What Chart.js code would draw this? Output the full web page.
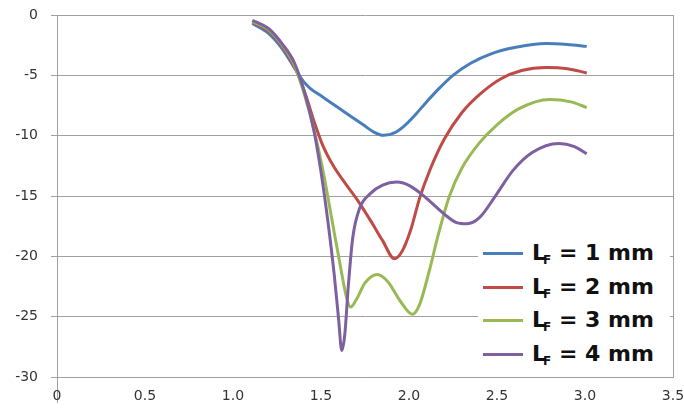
<!doctype html>
<html lang="en">
<head>
    <meta charset="UTF-8">
    <title>Reflection vs frequency</title>
    <script src="https://cdn.jsdelivr.net/npm/chart.js"></script>
    <style>
        body { margin: 0; background: #fff; }
        .wrap { position: relative; width: 684px; height: 410px; }
        .legend {
            position: absolute; left: 478px; top: 234px; width: 192px; height: 138px;
            background: #fff; font-family: 'DejaVu Sans', sans-serif; font-weight: bold;
            font-size: 22px; color: #111;
        }
        .item { position: absolute; left: 5px; height: 24px; line-height: 24px; white-space: nowrap; }
        .item i { display: inline-block; width: 40px; height: 3px; vertical-align: middle; margin-right: 9px; position: relative; top: -1px; }
        .item sub { font-size: 12px; vertical-align: baseline; position: relative; top: 4px; margin-left: -3px; }
    </style>
</head>
<body>
<div class="wrap">
    <canvas id="chart" width="684" height="410"></canvas>
    <div class="legend" id="legend"></div>
</div>
<script>
  // values
  const lf1X = [1.11, 1.20, 1.28, 1.35, 1.40, 1.44, 1.50, 1.58, 1.66, 1.74, 1.80, 1.855, 1.92, 1.98, 2.04, 2.10, 2.17, 2.25, 2.35, 2.47, 2.60, 2.78, 2.90, 3.01];
  const lf1Y = [-0.7, -1.5, -2.8, -4.4, -5.5, -6.1, -6.7, -7.5, -8.3, -9.1, -9.7, -9.97, -9.75, -9.1, -8.2, -7.2, -6.1, -5.0, -4.0, -3.2, -2.7, -2.37, -2.45, -2.6];

  const lf2X = [1.11, 1.20, 1.28, 1.35, 1.41, 1.46, 1.51, 1.57, 1.64, 1.71, 1.78, 1.85, 1.917, 1.96, 2.01, 2.06, 2.12, 2.20, 2.30, 2.40, 2.52, 2.64, 2.78, 2.90, 3.01];
  const lf2Y = [-0.6, -1.3, -2.6, -4.3, -6.5, -8.8, -10.8, -12.5, -14.0, -15.4, -17.0, -18.7, -20.2, -19.6, -17.8, -15.2, -12.8, -10.3, -8.1, -6.6, -5.3, -4.6, -4.35, -4.45, -4.8];

  const lf3X = [1.11, 1.20, 1.28, 1.35, 1.41, 1.46, 1.51, 1.56, 1.61, 1.645, 1.668, 1.70, 1.75, 1.82, 1.88, 1.95, 2.02, 2.06, 2.11, 2.17, 2.23, 2.30, 2.40, 2.50, 2.62, 2.80, 2.92, 3.01];
  const lf3Y = [-0.55, -1.2, -2.5, -4.2, -6.8, -9.5, -12.8, -16.8, -20.8, -23.4, -24.2, -23.6, -22.2, -21.5, -22.1, -23.7, -24.8, -24.0, -21.5, -18.0, -15.0, -12.7, -10.6, -9.1, -7.8, -7.0, -7.2, -7.67];

  const lf4X = [1.11, 1.20, 1.28, 1.35, 1.41, 1.46, 1.50, 1.54, 1.575, 1.60, 1.618, 1.635, 1.655, 1.68, 1.72, 1.78, 1.85, 1.93, 2.01, 2.10, 2.20, 2.27, 2.33, 2.40, 2.50, 2.59, 2.70, 2.85, 2.94, 3.01];
  const lf4Y = [-0.44, -1.1, -2.4, -4.0, -6.6, -9.6, -13.0, -17.2, -21.5, -25.2, -27.8, -26.5, -22.5, -18.5, -16.0, -14.8, -14.1, -13.85, -14.2, -15.2, -16.5, -17.2, -17.3, -16.8, -14.8, -12.9, -11.4, -10.65, -10.9, -11.5];

  const seriesNames = ['1 mm', '2 mm', '3 mm', '4 mm'];
  const seriesColors = ['#4A7EBB', '#BE4B48', '#98B954', '#7D60A0'];

  function points(xs, ys) {
    return xs.map((x, i) => ({x: x, y: ys[i]}));
  }

  const allData = [points(lf1X, lf1Y), points(lf2X, lf2Y), points(lf3X, lf3Y), points(lf4X, lf4Y)];

  const tickFont = {family: 'DejaVu Sans', size: 14};
  const gridGray = '#a0a0a0';

  new Chart(document.getElementById('chart'), {
    type: 'line',
    data: {
      datasets: allData.map((d, i) => ({
        label: 'LF = ' + seriesNames[i],
        data: d,
        borderColor: seriesColors[i],
        borderWidth: 3,
        pointRadius: 0,
        cubicInterpolationMode: 'monotone',
        order: 4 - i, // last series drawn on top, like Excel
      }))
    },
    options: {
      responsive: false,
      animation: false,
      layout: {padding: {top: 15, left: 0, right: 0, bottom: 0}},
      plugins: {
        legend: {display: false},
        tooltip: {enabled: false},
      },
      scales: {
        x: {
          type: 'linear',
          min: 0,
          max: 3.5,
          ticks: {stepSize: 0.5, padding: -15, color: '#333', font: tickFont},
          grid: {
            drawOnChartArea: false,
            tickLength: 26,
            color: (ctx) => (ctx.tick && ctx.tick.value === 0) ? gridGray : 'rgba(0,0,0,0)',
          },
          border: {color: gridGray},
          afterFit: (scale) => { scale.height = 33; },
        },
        y: {
          min: -30,
          max: 0,
          ticks: {stepSize: 5, padding: 13, color: '#333', font: tickFont},
          grid: {color: gridGray, tickLength: 6},
          border: {color: gridGray},
          afterFit: (scale) => {
            scale.width = 57;
            scale.paddingTop = 0; // top label may overhang, the plot starts near the top like the original
          },
        },
        y2: {
          position: 'right',
          ticks: {display: false},
          grid: {display: false},
          border: {display: true, color: gridGray},
          afterFit: (scale) => { scale.width = 11; },
        },
      }
    },
  });

  // legend with subscript F
  const legend = document.getElementById('legend');
  const rowTops = [7, 41, 74, 108];
  seriesNames.forEach((name, i) => {
    const row = document.createElement('div');
    row.className = 'item';
    row.style.top = rowTops[i] + 'px';
    row.innerHTML = '<i style="background:' + seriesColors[i] + '"></i>L<sub>F</sub> = ' + name;
    legend.appendChild(row);
  });
</script>
</body>
</html>
